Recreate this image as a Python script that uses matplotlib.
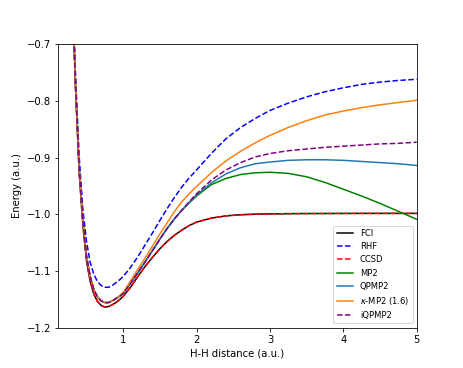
import numpy as np
import matplotlib
matplotlib.use('Agg')
import matplotlib.pyplot as plt

# bond lengths
r = [0.30, 0.35, 0.40, 0.45, 0.50, 0.55, 0.60, 0.65, 0.70, 0.75, 0.80, 0.85, 0.90, 0.95,
     1.00, 1.10, 1.20, 1.30, 1.40, 1.50, 1.60, 1.70, 1.80, 1.90, 2.00, 2.20, 2.40, 2.60,
     2.80, 3.00, 3.25, 3.50, 3.75, 4.00, 4.25, 4.50, 4.75, 5.00]

# energies
fci = [-0.585, -0.775, -0.925, -1.018, -1.082, -1.118, -1.141, -1.154, -1.161, -1.164,
       -1.163, -1.160, -1.156, -1.151, -1.145, -1.129, -1.110, -1.092, -1.076, -1.061,
       -1.048, -1.037, -1.028, -1.020, -1.014, -1.007, -1.003, -1.001, -1.000, -0.9995,
       -0.9991, -0.9989, -0.9988, -0.9987, -0.9986, -0.9986, -0.9986, -0.9986]
rhf = [-0.560, -0.752, -0.898, -0.990, -1.048, -1.085, -1.106, -1.119, -1.126, -1.129,
       -1.129, -1.126, -1.121, -1.116, -1.110, -1.094, -1.075, -1.054, -1.033, -1.011,
       -0.990, -0.970, -0.952, -0.936, -0.922, -0.893, -0.867, -0.847, -0.831, -0.817,
       -0.804, -0.793, -0.784, -0.777, -0.771, -0.767, -0.764, -0.762]
ccsd = fci
mp2 = [-0.578, -0.770, -0.918, -1.010, -1.074, -1.110, -1.133, -1.146, -1.153, -1.156,
       -1.156, -1.153, -1.149, -1.145, -1.140, -1.122, -1.103, -1.084, -1.064, -1.044,
       -1.025, -1.008, -0.993, -0.980, -0.968, -0.948, -0.937, -0.930, -0.927, -0.926,
       -0.928, -0.934, -0.944, -0.956, -0.968, -0.981, -0.995, -1.009]
qpmp2 = [-0.578, -0.770, -0.918, -1.010, -1.074, -1.110, -1.133, -1.146, -1.153, -1.156,
         -1.156, -1.153, -1.149, -1.145, -1.140, -1.122, -1.103, -1.084, -1.064, -1.044,
         -1.025, -1.008, -0.993, -0.979, -0.966, -0.945, -0.929, -0.918, -0.911, -0.908,
         -0.905, -0.904, -0.904, -0.905, -0.907, -0.909, -0.911, -0.914]
kmp2 = [-0.578, -0.770, -0.918, -1.010, -1.074, -1.110, -1.133, -1.146, -1.153, -1.156,
        -1.156, -1.153, -1.149, -1.144, -1.138, -1.118, -1.097, -1.077, -1.056, -1.035,
        -1.015, -0.995, -0.978, -0.964, -0.951, -0.927, -0.906, -0.889, -0.874, -0.861,
        -0.847, -0.835, -0.825, -0.818, -0.812, -0.807, -0.803, -0.799]
iqpmp2 = [-0.578, -0.770, -0.918, -1.010, -1.074, -1.110, -1.133, -1.146, -1.153, -1.156,
          -1.156, -1.153, -1.149, -1.145, -1.140, -1.122, -1.103, -1.084, -1.064, -1.044,
          -1.025, -1.008, -0.993, -0.978, -0.964, -0.940, -0.922, -0.909, -0.899, -0.893,
          -0.888, -0.885, -0.882, -0.880, -0.878, -0.876, -0.875, -0.873]

plt.figure(figsize=(463/72, 368/72), dpi=72)
plt.plot(r, fci, 'k-', label='FCI')
plt.plot(r, rhf, 'b--', label='RHF')
plt.plot(r, ccsd, 'r--', label='CCSD')
plt.plot(r, mp2, 'g-', label='MP2')
plt.plot(r, qpmp2, color='tab:blue', label='QPMP2')
plt.plot(r, kmp2, color='tab:orange', label=r'$\kappa$-MP2 (1.6)')
plt.plot(r, iqpmp2, '--', color='purple', label='iQPMP2')
plt.xlim(0.11, 5)
plt.ylim(-1.2, -0.7)
plt.xlabel('H-H distance (a.u.)')
plt.ylabel('Energy (a.u.)')
plt.legend(loc='lower right', fontsize='small')
plt.savefig('out.png', dpi=72)
